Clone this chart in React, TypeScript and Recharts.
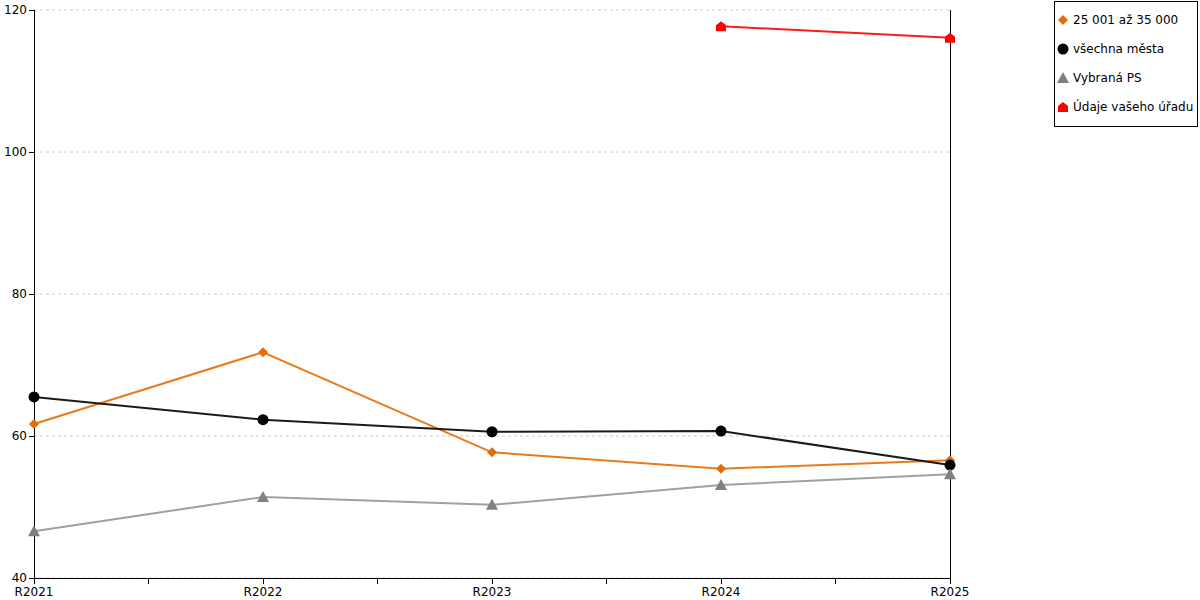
import React from 'react';
import {
  LineChart,
  Line,
  XAxis,
  YAxis,
  CartesianGrid,
  Legend,
  ReferenceLine,
} from 'recharts';

const CATEGORIES = ['R2021', 'R2022', 'R2023', 'R2024', 'R2025'];
const SIZE_GROUP = [61.7, 71.8, 57.7, 55.4, 56.6];
const ALL_CITIES = [65.5, 62.3, 60.6, 60.7, 55.9];
const SELECTED_PS = [46.6, 51.4, 50.3, 53.1, 54.6];
const YOUR_OFFICE = [null, null, null, 117.7, 116.1];
const Y_TICKS = [40, 60, 80, 100, 120];

const X_TICKS = CATEGORIES.flatMap((_, i) => (i < CATEGORIES.length - 1 ? [i, i + 0.5] : [i]));

const data = CATEGORIES.map((name, i) => ({
  x: i,
  name,
  size: SIZE_GROUP[i],
  all: ALL_CITIES[i],
  ps: SELECTED_PS[i],
  office: YOUR_OFFICE[i],
}));

const FONT = '"DejaVu Sans", Verdana, sans-serif';

const SERIES = [
  { key: 'size', name: '25 001 až 35 000', line: '#e87a1e', marker: '#e26b0a', shape: 'diamond' },
  { key: 'all', name: 'všechna města', line: '#1a1a1a', marker: '#000000', shape: 'circle' },
  { key: 'ps', name: 'Vybraná PS', line: '#a0a0a0', marker: '#808080', shape: 'triangle' },
  { key: 'office', name: 'Údaje vašeho úřadu', line: '#ff1a1a', marker: '#ff0000', shape: 'house' },
];

function Marker({ cx, cy, shape, color }: { cx: number; cy: number; shape: string; color: string }) {
  if (cx == null || cy == null) return null;
  if (shape === 'diamond') {
    return <polygon points={`${cx},${cy - 5} ${cx + 5},${cy} ${cx},${cy + 5} ${cx - 5},${cy}`} fill={color} />;
  }
  if (shape === 'circle') {
    return <circle cx={cx} cy={cy} r={5.5} fill={color} />;
  }
  if (shape === 'triangle') {
    return <polygon points={`${cx},${cy - 6} ${cx + 6},${cy + 5} ${cx - 6},${cy + 5}`} fill={color} />;
  }
  return (
    <polygon
      points={`${cx},${cy - 5} ${cx + 5},${cy - 1} ${cx + 5},${cy + 5} ${cx - 5},${cy + 5} ${cx - 5},${cy - 1}`}
      fill={color}
    />
  );
}

const LegendBox = () => (
  <div
    style={{
      border: '1px solid #000',
      width: 144,
      height: 126,
      boxSizing: 'border-box',
      fontFamily: FONT,
      fontSize: 12,
      color: '#000',
      background: '#fff',
      paddingTop: 3,
      whiteSpace: 'nowrap',
    }}
  >
    {SERIES.map((s) => (
      <div key={s.key} style={{ display: 'flex', alignItems: 'center', height: 29, paddingLeft: 1 }}>
        <svg width={14} height={14}>
          <Marker cx={7} cy={7} shape={s.shape} color={s.marker} />
        </svg>
        <span style={{ marginLeft: 3 }}>{s.name}</span>
      </div>
    ))}
  </div>
);

export default function App() {
  return (
    <div style={{ position: 'absolute', left: 0, top: 0, width: 1200, height: 600, background: '#fff' }}>
      <LineChart
        width={1200}
        height={600}
        data={data}
        margin={{ top: 10, right: 106, bottom: 0, left: 0 }}
        style={{ fontFamily: FONT }}
      >
        <CartesianGrid vertical={false} stroke="#cccccc" strokeDasharray="3 3" />
        <XAxis
          dataKey="x"
          type="number"
          domain={[0, 4]}
          ticks={X_TICKS}
          interval={0}
          tickFormatter={(v: number) => (Number.isInteger(v) ? CATEGORIES[v] : '')}
          height={22}
          stroke="#000"
          axisLine={{ stroke: '#000', shapeRendering: 'crispEdges' }}
          tickLine={{ stroke: '#000', shapeRendering: 'crispEdges' }}
          tickSize={6}
          tickMargin={3}
          tick={{ fill: '#000', fontSize: 12 }}
        />
        <YAxis
          domain={[40, 120]}
          ticks={Y_TICKS}
          width={34}
          stroke="#000"
          axisLine={{ stroke: '#000', shapeRendering: 'crispEdges' }}
          tickLine={{ stroke: '#000', shapeRendering: 'crispEdges' }}
          tickSize={5}
          tickMargin={2}
          tick={{ fill: '#000', fontSize: 12 }}
        />
        <ReferenceLine x={4} stroke="#000" strokeWidth={1} shapeRendering="crispEdges" />
        <Legend
          layout="vertical"
          align="right"
          verticalAlign="top"
          content={<LegendBox />}
          wrapperStyle={{ position: 'absolute', left: 1054, top: 1, width: 144, height: 126 }}
        />
        {SERIES.map((s) => (
          <Line
            key={s.key}
            dataKey={s.key}
            name={s.name}
            stroke={s.line}
            strokeWidth={2}
            isAnimationActive={false}
            connectNulls={false}
            dot={(p: any) => <Marker key={`${s.key}-${p.index}`} cx={p.cx} cy={p.cy} shape={s.shape} color={s.marker} />}
            activeDot={false}
          />
        ))}
      </LineChart>
    </div>
  );
}
